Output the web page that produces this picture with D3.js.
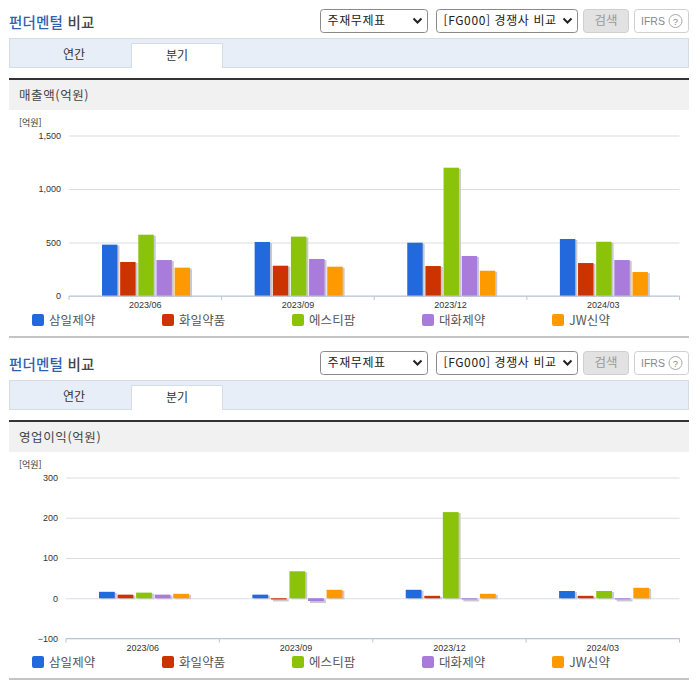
<!DOCTYPE html>
<html lang="ko">
<head>
<meta charset="UTF-8">
<title>펀더멘털 비교</title>
<script src="https://cdn.jsdelivr.net/npm/d3@7/dist/d3.min.js"></script>
<style>
    html, body { margin: 0; padding: 0; background: #fff; }
    svg { display: block; }
    text { font-family: "Noto Sans CJK KR", sans-serif; }
    .tick text, .num { font-family: "Liberation Sans", Arial, sans-serif; }
</style>
</head>
<body>
<div id="container"></div>
<script>
    const periods = ['2023/06', '2023/09', '2023/12', '2024/03']
    const companies = ['삼일제약', '화일약품', '에스티팜', '대화제약', 'JW신약']
    const colors = ['#2169dd', '#cc3300', '#8bc30a', '#a97cdb', '#ff9900']

    // 회사별 분기 값 (억원)
    const sales = [
        [480, 505, 498, 533],
        [318, 283, 280, 308],
        [573, 555, 1199, 507],
        [336, 346, 374, 336],
        [265, 274, 236, 224]
    ]
    const profit = [
        [16, 9, 21, 18],
        [9, -3, 6, 6],
        [14, 67, 214, 18],
        [9, -7, -3, -3],
        [11, 21, 11, 26]
    ]
    const salesTicks = [0, 500, 1000, 1500]
    const profitTicks = [-100, 0, 100, 200, 300]

    const svg = d3.select('#container').append('svg').attr('width', 696).attr('height', 684)

    function drawHeader(g) {
        const title = g.append('text').attr('x', 9).attr('y', 28).attr('font-size', 14.5).attr('font-weight', 500)
            .attr('letter-spacing', 0.2)
        title.append('tspan').attr('fill', '#2f5fb3').text('펀더멘털')
        title.append('tspan').attr('fill', '#444').text(' 비교')

        const selects = [
            { x: 320.5, w: 107, label: '주재무제표', spacing: 0.6 },
            { x: 436.5, w: 141, label: '[FG000] 경쟁사 비교', spacing: 0.6 }
        ]
        selects.forEach(s => {
            g.append('rect').attr('x', s.x).attr('y', 9.5).attr('width', s.w).attr('height', 23).attr('rx', 3)
                .attr('fill', '#fff').attr('stroke', '#8a8a8a')
            g.append('text').attr('x', s.x + 7).attr('y', 25).attr('font-size', 12).attr('letter-spacing', s.spacing)
                .attr('fill', '#222').text(s.label)
            const cx = s.x + s.w - 10
            g.append('path').attr('d', `M${cx - 4},18.5 L${cx},22.5 L${cx + 4},18.5`)
                .attr('fill', 'none').attr('stroke', '#222').attr('stroke-width', 2)
        })

        g.append('rect').attr('x', 583.5).attr('y', 9.5).attr('width', 45).attr('height', 23).attr('rx', 3)
            .attr('fill', '#e2e2e2').attr('stroke', '#cfcfcf')
        g.append('text').attr('x', 606).attr('y', 24.5).attr('text-anchor', 'middle').attr('font-size', 12.5)
            .attr('fill', '#999').text('검색')
        g.append('rect').attr('x', 634.5).attr('y', 9.5).attr('width', 54).attr('height', 23).attr('rx', 3)
            .attr('fill', '#fff').attr('stroke', '#cfcfcf')
        g.append('text').attr('class', 'num').attr('x', 641).attr('y', 24.5).attr('font-size', 10.5)
            .attr('fill', '#888').text('IFRS')
        g.append('circle').attr('cx', 675.5).attr('cy', 21).attr('r', 6.5).attr('fill', '#fff').attr('stroke', '#aaa')
        g.append('text').attr('class', 'num').attr('x', 675.5).attr('y', 24.5).attr('text-anchor', 'middle')
            .attr('font-size', 9.5).attr('fill', '#888').text('?')

        // 탭
        g.append('rect').attr('x', 9.5).attr('y', 38.5).attr('width', 679).attr('height', 29)
            .attr('fill', '#e8eef8').attr('stroke', '#d6dce6')
        g.append('path').attr('d', 'M131.5,68 V43.5 H222.5 V68').attr('fill', '#fff').attr('stroke', '#d6dce6')
        g.append('rect').attr('x', 132).attr('y', 44).attr('width', 90).attr('height', 24).attr('fill', '#fff')
        g.append('text').attr('x', 74).attr('y', 59).attr('text-anchor', 'middle').attr('font-size', 12).attr('fill', '#333').text('연간')
        g.append('text').attr('x', 177).attr('y', 60).attr('text-anchor', 'middle').attr('font-size', 12).attr('fill', '#333').text('분기')

        g.append('rect').attr('x', 9).attr('y', 80).attr('width', 680).attr('height', 30).attr('fill', '#f1f1f1')
        g.append('rect').attr('x', 9).attr('y', 78).attr('width', 680).attr('height', 2).attr('fill', '#333')
        g.append('rect').attr('x', 9).attr('y', 336).attr('width', 680).attr('height', 2).attr('fill', '#c4c4c4')
    }

    function drawPanel(offset, opt) {
        const g = svg.append('g').attr('transform', `translate(0,${offset})`)
        drawHeader(g)

        g.append('text').attr('x', 19).attr('y', 100).attr('font-size', 12.5).attr('letter-spacing', 0.6)
            .attr('fill', '#444').text(opt.title)
        g.append('text').attr('x', 19).attr('y', 126).attr('font-size', 9).attr('fill', '#333').text('[억원]')

        const x = d3.scaleBand().domain(periods).range([opt.left, 679.5])
        const inner = d3.scaleBand().domain(companies).range(opt.group).paddingInner(0.15)
        const y = d3.scaleLinear().domain(d3.extent(opt.ticks)).range([opt.bottom, 135.5])

        const grid = g.append('g').attr('transform', `translate(${opt.left},0)`)
            .call(d3.axisLeft(y).tickValues(opt.ticks).tickSize(-(679.5 - opt.left)).tickPadding(8)
                .tickFormat(d3.format(',')))
        grid.select('.domain').remove()
        grid.selectAll('line').attr('stroke', '#d9dde3')
        grid.selectAll('text').attr('font-size', 9).attr('fill', '#333')

        companies.forEach((name, c) => {
            const bars = g.append('g').selectAll('g').data(opt.values[c]).join('g')
                .attr('transform', (d, i) => `translate(${x(periods[i]) + x.bandwidth() / 2 + inner(name)},0)`)
            bars.append('rect')
                .attr('x', 2).attr('y', d => Math.min(y(d), y(0)) + 1)
                .attr('width', inner.bandwidth())
                .attr('height', d => Math.abs(y(d) - y(0)) + (d < 0 ? 1 : 0))
                .attr('fill', '#c9c9cf')
            bars.append('rect')
                .attr('y', d => Math.min(y(d), y(0)))
                .attr('width', inner.bandwidth())
                .attr('height', d => Math.abs(y(d) - y(0)))
                .attr('fill', colors[c])
        })

        const axis = g.append('g').attr('transform', `translate(0,${opt.bottom})`)
            .call(d3.axisBottom(x).tickSize(0).tickPadding(6))
        axis.select('.domain').remove()
        axis.selectAll('text').attr('font-size', 9).attr('fill', '#333')
        g.append('g').selectAll('line').data(periods.concat(null)).join('line')
            .attr('x1', d => d ? x(d) : 679.5).attr('x2', d => d ? x(d) : 679.5)
            .attr('y1', opt.bottom).attr('y2', opt.bottom + 4)
            .attr('stroke', '#b8c4d8')
        g.append('line').attr('x1', opt.left).attr('x2', 679.5).attr('y1', opt.bottom).attr('y2', opt.bottom)
            .attr('stroke', '#b8c4d8')

        const legend = g.append('g').selectAll('g').data(companies).join('g')
            .attr('transform', (d, i) => `translate(${32 + i * 130},0)`)
        legend.append('rect').attr('y', 314).attr('width', 12).attr('height', 12).attr('rx', 2)
            .attr('fill', (d, i) => colors[i])
        legend.append('text').attr('x', 17).attr('y', 325).attr('font-size', 12.5).attr('letter-spacing', 0.1)
            .attr('fill', '#555').text(d => d)
    }

    drawPanel(0, { title: '매출액(억원)', values: sales, ticks: salesTicks, left: 69, bottom: 296, group: [-43.3, 44.7] })
    drawPanel(342, { title: '영업이익(억원)', values: profit, ticks: profitTicks, left: 66, bottom: 296.5, group: [-43.7, 46.3] })
</script>
</body>
</html>
